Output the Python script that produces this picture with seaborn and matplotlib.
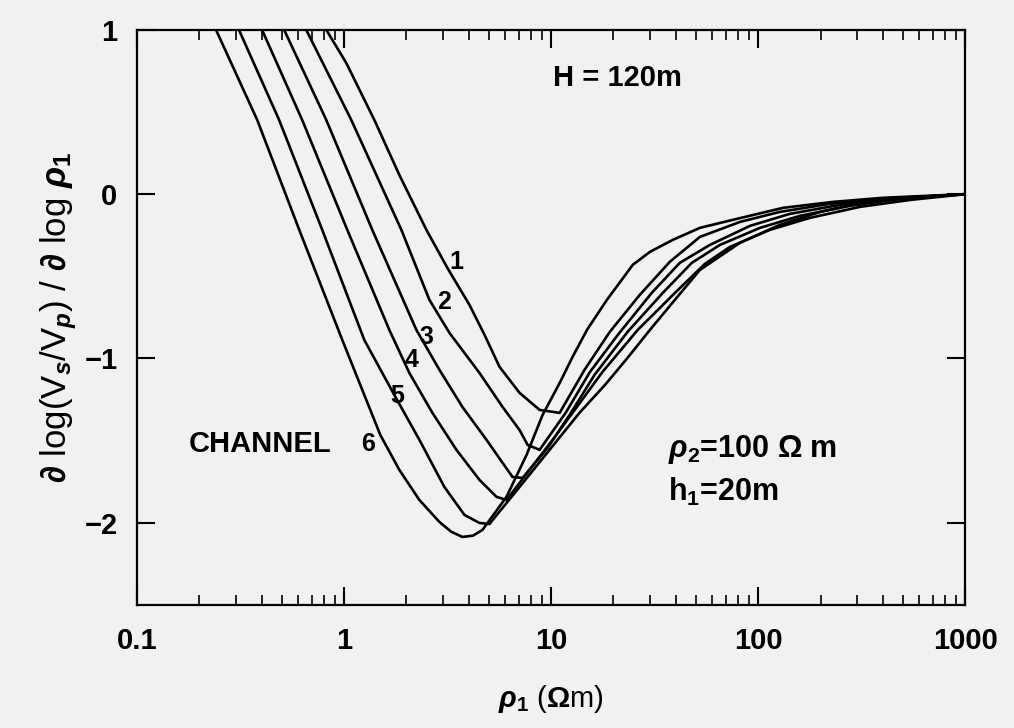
import numpy as np
import pandas as pd
import matplotlib
matplotlib.use("Agg")
import matplotlib.pyplot as plt
import seaborn as sns
from matplotlib.ticker import FixedLocator, LogLocator, NullFormatter

# sensitivity curves d log(Vs/Vp) / d log rho1, one per channel
rho_ch1 = [0.821, 1.025, 1.401, 1.850, 2.499, 3.157, 4.035, 4.769, 5.636, 7.04, 8.80, 11.0,
           14.5, 19.2, 26.8, 37.4, 52.3, 81.6, 127, 222, 388, 1000]
val_ch1 = [1.0, 0.799, 0.452, 0.117, -0.217, -0.449, -0.674, -0.856, -1.051, -1.209, -1.313, -1.331,
           -1.069, -0.838, -0.613, -0.412, -0.260, -0.169, -0.108, -0.059, -0.029, 0.0]

rho_ch2 = [0.657, 1.084, 1.892, 2.584, 3.229, 4.51, 5.83, 7.04, 7.70, 8.80, 11.75,
           15.4, 21.0, 30.6, 41.8, 58.4, 91.2, 142, 249, 434, 1000]
val_ch2 = [1.0, 0.452, -0.217, -0.643, -0.844, -1.088, -1.295, -1.435, -1.526, -1.556, -1.331,
           -1.082, -0.856, -0.601, -0.418, -0.309, -0.193, -0.120, -0.065, -0.029, 0.0]

rho_ch3 = [0.514, 0.821, 1.369, 2.236, 2.889, 3.731, 4.875, 5.83, 6.51, 7.28, 9.62, 12.29,
           16.2, 23.4, 34.6, 47.8, 65.3, 102, 159, 278, 485, 1000]
val_ch3 = [1.0, 0.452, -0.217, -0.826, -1.069, -1.295, -1.495, -1.635, -1.721, -1.727, -1.544, -1.343,
           -1.100, -0.838, -0.601, -0.418, -0.309, -0.205, -0.132, -0.071, -0.029, 0.0]

rho_ch4 = [0.402, 0.628, 1.037, 1.655, 2.068, 2.672, 3.491, 4.51, 5.45, 6.09, 7.87, 10.17, 13.0,
           17.7, 26.2, 39.6, 55.3, 73.0, 114, 178, 311, 542, 1000]
val_ch4 = [1.0, 0.452, -0.217, -0.826, -1.088, -1.331, -1.556, -1.739, -1.842, -1.861, -1.678, -1.495, -1.313,
           -1.082, -0.826, -0.601, -0.424, -0.321, -0.217, -0.144, -0.077, -0.035, 0.0]

rho_ch5 = [0.311, 0.486, 0.785, 1.253, 1.750, 2.312, 3.053, 3.816, 4.51, 5.04, 7.04, 9.83, 13.7,
           18.2, 23.4, 30.0, 39.6, 52.3, 81.6, 127, 199, 311, 485, 1000]
val_ch5 = [1.0, 0.452, -0.217, -0.887, -1.222, -1.495, -1.782, -1.952, -2.001, -2.007, -1.782, -1.556, -1.331,
           -1.161, -0.996, -0.826, -0.643, -0.461, -0.296, -0.187, -0.108, -0.053, -0.022, 0.0]

rho_ch6 = [0.241, 0.381, 0.608, 0.981, 1.497, 1.850, 2.312, 2.889, 3.30, 3.731, 4.20, 4.664, 6.09, 7.61, 9.10,
           11.0, 12.7, 14.9, 18.6, 24.8, 30.0, 38.7, 52.3, 75.5, 132, 230, 401, 1000]
val_ch6 = [1.0, 0.452, -0.217, -0.887, -1.465, -1.678, -1.861, -1.995, -2.055, -2.086, -2.078, -2.043,
           -1.842, -1.587, -1.343, -1.149, -0.990, -0.826, -0.643, -0.430, -0.351, -0.278, -0.205, -0.156,
           -0.083, -0.047, -0.022, 0.0]

channels = ["1", "2", "3", "4", "5", "6"]
rho_list = [rho_ch1, rho_ch2, rho_ch3, rho_ch4, rho_ch5, rho_ch6]
val_list = [val_ch1, val_ch2, val_ch3, val_ch4, val_ch5, val_ch6]

# where the channel numbers sit next to their curves
label_rho = [3.49, 3.05, 2.50, 2.12, 1.81, 1.30]
label_val = [-0.412, -0.656, -0.869, -1.008, -1.228, -1.520]

x_ticks = [0.1, 1, 10, 100, 1000]
x_ticklabels = ["0.1", "1", "10", "100", "1000"]
y_ticks = [1, 0, -1, -2]
y_ticklabels = ["1", "0", "\u22121", "\u22122"]

frames = []
for ch, r, v in zip(channels, rho_list, val_list):
    frames.append(pd.DataFrame({"rho": r, "val": v, "channel": ch}))
df = pd.concat(frames, ignore_index=True)

sns.set_theme(style="ticks")
bg = "#f1f1f1"
plt.rcParams["font.family"] = ["Liberation Sans", "DejaVu Sans"]
plt.rcParams["font.weight"] = "bold"
plt.rcParams["text.color"] = "black"
plt.rcParams["axes.labelcolor"] = "black"
plt.rcParams["mathtext.fontset"] = "custom"
plt.rcParams["mathtext.rm"] = "Liberation Sans:bold"
plt.rcParams["mathtext.it"] = "Liberation Sans:italic:bold"

fig = plt.figure(figsize=(10.14, 7.28), dpi=100, facecolor=bg)
ax = fig.add_axes([0.135, 0.169, 0.817, 0.790])
ax.set_facecolor(bg)

for ch in channels:
    sub = df[df["channel"] == ch]
    sns.lineplot(data=sub, x="rho", y="val", sort=False, estimator=None,
                 color="black", linewidth=1.9, ax=ax, legend=False)

ax.set_xscale("log")
ax.set_xlim(0.1, 1000)
ax.set_ylim(-2.5, 1)

ax.xaxis.set_major_locator(FixedLocator(x_ticks))
ax.set_xticklabels(x_ticklabels, fontweight="bold")
ax.xaxis.set_minor_locator(LogLocator(base=10, subs=np.arange(2, 10)))
ax.xaxis.set_minor_formatter(NullFormatter())
ax.set_yticks(y_ticks)
ax.set_yticklabels(y_ticklabels, fontweight="bold")

ax.tick_params(axis="both", which="major", direction="in", top=True, right=True,
               length=13, width=1.5, labelsize=21, colors="black")
ax.tick_params(axis="x", which="major", pad=16)
ax.tick_params(axis="y", which="major", pad=14)
ax.tick_params(axis="x", which="minor", direction="in", top=True, bottom=True,
               length=7, width=1.2, colors="black")
for s in ax.spines.values():
    s.set_linewidth(1.6)
    s.set_color("black")

ax.set_xlabel(r"$\rho_1$ ($\Omega$m)", fontsize=21, labelpad=20)
ax.set_ylabel(r"$\partial$ log(V$_s$/V$_p$) / $\partial$ log $\rho_1$", fontsize=25, labelpad=4)

for ch, lr, lv in zip(channels, label_rho, label_val):
    ax.text(lr, lv, ch, fontsize=18, ha="center", va="center")

ax.text(0.87, -1.52, "CHANNEL", fontsize=21, ha="right", va="center")
ax.text(10.2, 0.71, "H = 120m", fontsize=21, ha="left", va="center")
ax.text(36.6, -1.556, r"$\rho_2$=100 $\Omega$ m", fontsize=22, ha="left", va="center")
ax.text(36.6, -1.81, r"h$_1$=20m", fontsize=22, ha="left", va="center")

fig.savefig("out.png", dpi=100, facecolor=bg)
